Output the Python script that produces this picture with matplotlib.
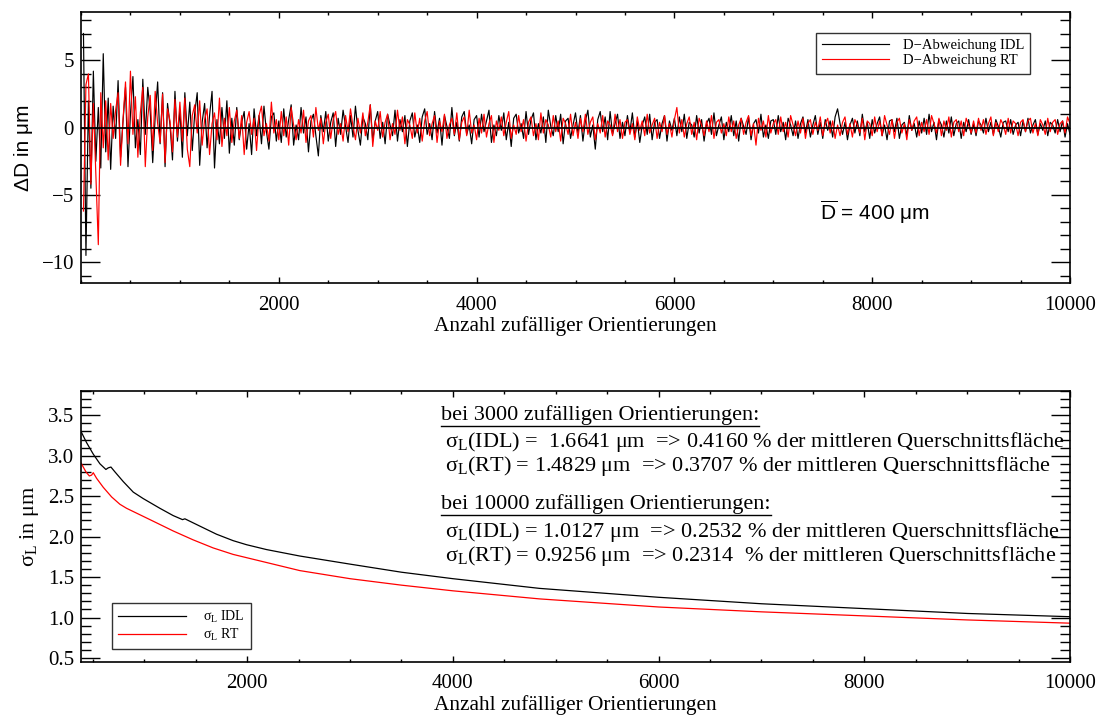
import numpy as np
import matplotlib
matplotlib.use('Agg')
import matplotlib.pyplot as plt
from matplotlib.ticker import MultipleLocator
from matplotlib.lines import Line2D

plt.rcParams['font.family'] = 'Liberation Serif'
plt.rcParams['mathtext.fontset'] = 'custom'
plt.rcParams['mathtext.rm'] = 'Liberation Serif'
plt.rcParams['mathtext.it'] = 'Liberation Serif:italic'
plt.rcParams['mathtext.sf'] = 'Liberation Sans'

# =====================================================================
# Daten oberer Plot: D-Abweichung je Anzahl Orientierungen (Schritt 25)
# =====================================================================
n_orient = np.arange(25, 10001, 25)

dev_idl = [
    7.0, -9.5, 2.0, -4.5, 4.2, -2.5, 1.5, -3.0, 5.5, -1.8, 2.2, -3.1, 1.6, -0.8, 3.5, -2.2, 0.5, 3.0, -2.9, 1.0,
    3.8, -1.5, 0.6, -2.0, 3.6, -0.5, 3.0, 1.2, -2.6, 0.8, 3.4, -1.2, 2.6, -2.9, 1.8, 0.2, -2.4, 2.7, -1.0, 1.3,
    -2.2, 2.6, -0.6, 1.9, -1.7, 1.1, 2.6, -2.8, 0.4, 1.8, -1.5, 0.9, 2.7, -3.0, 0.6, -1.2, 1.5, -0.8, 2.0, -1.9,
    0.7, -1.3, 1.5, -0.9, 0.4, 1.2, -1.6, 0.3, -2.0, 1.4, -0.6, 0.9, -1.2, 1.6, -0.3, -1.6, 0.8, 1.1, -1.0, 0.5,
    -1.1, 1.4, -0.7, 0.6, 1.7, -1.3, 0.2, -0.9, 1.5, -0.4, 0.8, -1.8, 0.5, 1.0, -0.6, -2.1, 0.9, -0.3, 1.2, -1.0,
    0.4, 1.1, -1.4, 0.7, -0.5, 1.3, 0.1, -1.1, 0.9, -0.7, 1.6, -0.2, -1.3, 0.8, 0.3, -0.9, 1.7, -1.0, 0.5, 1.2,
    -0.8, 0.4, -1.2, 1.0, 0.2, -0.6, 1.3, -1.0, 0.6, -0.3, 0.9, -1.4, 0.5, 1.1, -0.7, 0.2, -1.1, 0.8, 1.4, -0.5,
    0.3, -0.9, 1.2, -0.4, 0.7, -1.3, 0.9, 0.1, -0.8, 1.5, -0.6, 0.4, -1.0, 0.8, 1.2, -0.5, 0.2, -1.2, 0.6, 0.9,
    -0.7, 1.0, -0.3, 0.5, 1.3, -1.1, 0.2, -0.6, 0.9, -0.2, 1.1, -0.9, 0.4, -1.4, 0.7, 1.0, -0.4, 0.3, -0.8, 1.2,
    -0.5, 0.6, 1.1, -0.9, 0.3, -0.4, 0.8, -1.1, 1.3, 0.1, -0.6, 0.9, -0.3, 1.0, -1.2, 0.5, 0.7, -0.8, 0.2, 1.1,
    -0.4, 0.9, -1.0, 0.5, 1.3, -0.7, 0.2, -1.6, 0.6, 1.2, -0.3, 0.8, -0.9, 1.2, -0.5, 0.3, 1.0, -0.8, 0.4, -0.6,
    0.9, -0.3, 1.1, -0.7, 0.5, -1.1, 0.2, 0.8, -0.5, 1.0, -0.9, 0.4, 0.6, -0.8, 0.3, 0.9, -1.0, 0.5, -0.2, 0.7,
    -0.6, 0.8, -0.3, 1.0, -0.8, 0.4, 0.2, -0.7, 0.9, -0.4, 0.6, -1.0, 0.3, 0.7, -0.5, 1.1, -0.6, 0.2, 0.8, -0.9,
    0.4, -0.3, 0.9, -0.6, 0.5, -1.0, 0.7, 0.1, -0.5, 0.8, -0.9, 0.3, 0.6, -0.4, 1.0, -0.7, 0.2, -0.8, 0.5, 0.6,
    -0.5, 0.9, -0.3, 0.4, -0.9, 0.7, 0.2, -0.6, 0.5, -0.8, 0.3, 0.8, -0.4, 0.6, -0.7, 0.2, 0.9, -0.5, 0.4, -0.8,
    0.6, -0.2, 0.5, -0.7, 0.8, 1.4, 0.3, -0.5, 0.4, -0.9, 0.2, 0.7, -0.4, 0.5, -0.6, 1.0, -0.3, 0.4, -0.8, 0.6,
    -0.4, 0.3, 0.8, -0.6, 0.2, -0.9, 0.5, 0.6, -0.3, 0.7, -0.8, 0.2, 0.4, -0.6, 0.9, -0.2, 0.3, -0.7, 0.5, -0.4,
    0.7, -0.5, 1.0, -0.3, 0.4, -0.9, 0.6, 0.2, -0.7, 0.5, -0.4, 0.8, -0.6, 0.3, 0.5, -0.8, 0.4, -0.3, 0.6, -0.5,
    0.3, -0.6, 0.5, 0.2, -0.4, 0.7, -0.3, 0.4, -0.5, 0.6, 0.1, -0.7, 0.4, 0.5, -0.3, 0.6, -0.5, 0.2, 0.4, -0.6,
    0.5, -0.3, 0.7, -0.4, 0.2, 0.6, -0.5, 0.3, -0.2, 0.5, -0.6, 0.4, 0.2, -0.4, 0.6, -0.3, 0.5, -0.7, 0.3, -0.5,
]

dev_rt = [
    -6.2, 3.2, 4.0, -4.2, 1.8, -3.5, -8.7, 2.6, -1.5, 2.0, -2.4, 1.8, -0.8, 1.3, 2.6, -2.8, 0.6, 3.4, -1.2, 4.2,
    -0.5, 2.3, -2.2, 1.1, 3.0, -2.9, 0.8, 2.4, -1.7, 2.7, 0.3, -1.1, 2.5, -2.6, 1.4, 0.5, -1.8, 2.1, -0.7, 1.9,
    -1.0, 2.2, -1.6, -2.9, 0.9, 1.7, -0.4, 2.0, -1.3, 0.6, 1.4, -2.0, 0.3, 1.1, -0.9, 2.2, -1.4, 0.7, -0.6, 1.5,
    -1.1, 0.5, 1.3, -0.8, 0.9, -2.0, 0.4, 1.2, -0.5, 0.7, -1.7, 0.9, 1.6, -0.6, 0.3, -1.0, 1.9, -0.4, 0.6, -0.9,
    1.2, -0.6, 0.8, -1.3, 1.5, 0.2, -0.9, 0.6, -0.4, 1.3, -1.1, 0.5, 0.9, -0.7, 1.5, -0.2, 0.7, -1.2, 0.4, 1.0,
    -0.8, 0.6, 1.2, -0.5, 0.3, -1.0, 0.9, -0.3, 1.4, 0.1, -0.9, 0.7, -0.4, 1.1, -0.6, 0.4, 1.7, -1.4, 0.5, -0.2,
    1.2, -0.7, 0.4, 1.0, -0.9, 0.3, -0.5, 1.3, -0.2, 0.8, -1.2, 0.6, 0.2, -0.8, 1.1, -0.4, 0.7, -1.0, 0.5, 1.2,
    -0.6, 0.3, 0.9, -1.1, 0.5, -0.3, 1.0, -0.8, 0.2, 0.7, -0.5, 1.1, -0.9, 0.4, 0.8, -0.6, 1.3, -0.4, 0.2, -0.9,
    0.7, -0.4, 1.0, -0.7, 0.3, 0.9, -1.1, 0.5, -0.2, 0.8, -0.6, 0.4, 1.2, -0.8, 0.2, -0.5, 0.9, -0.3, 0.6, -1.0,
    0.4, 0.8, -0.6, 0.3, -0.9, 1.1, -0.4, 0.6, 0.2, -0.7, 0.9, -0.3, 0.5, -1.0, 0.7, 0.3, -0.5, 1.0, -0.6, 0.4,
    -0.8, 0.7, -0.3, 1.0, -0.5, 0.4, 0.8, -0.9, 0.3, -0.4, 0.9, -0.7, 0.5, 0.2, -0.6, 1.0, -0.3, 0.6, -0.8, 0.4,
    0.6, -0.5, 0.3, -0.9, 0.8, -0.2, 0.5, -0.6, 1.0, -0.4, 0.2, 0.7, -0.8, 0.4, -0.3, 0.9, -0.5, 0.3, -0.7, 0.6,
    1.5, -0.4, 0.6, -0.7, 0.3, 0.8, -0.5, 0.4, -0.9, 0.7, 0.2, -0.6, 0.5, -0.3, 0.9, -0.8, 0.4, 0.6, -0.4, 0.3,
    -0.6, 0.8, -0.3, 0.5, -0.8, 0.2, 0.7, -0.5, 0.4, 0.9, -0.6, 0.3, -1.3, 0.7, -0.2, 0.5, -0.7, 0.9, -0.4, 0.3,
    0.6, -0.5, 0.8, -0.3, 0.4, -0.7, 0.9, 0.2, -0.6, 0.5, -0.4, 0.7, -0.8, 0.3, 0.6, -0.5, 0.4, -0.2, 0.8, -0.6,
    0.3, 0.7, -0.4, 0.5, -0.8, 0.2, -0.6, 0.4, 0.8, -0.5, 0.3, -0.7, 0.6, 0.2, -0.4, 0.7, -0.9, 0.5, 0.3, -0.6,
    0.8, -0.3, 0.5, -0.6, 0.9, 0.2, -0.5, 0.6, -0.8, 0.4, 0.7, -0.4, 0.3, -0.9, 0.6, -0.2, 0.5, 0.8, -0.6, 0.4,
    -0.3, 0.6, -0.5, 0.9, 0.3, -0.4, 0.7, -0.6, 0.5, -0.2, 0.8, -0.7, 0.4, 0.6, -0.3, 0.5, -0.6, 0.7, 0.2, -0.4,
    0.5, -0.4, 0.7, -0.2, 0.6, -0.5, 0.3, 0.8, -0.6, 0.4, -0.3, 0.6, 0.2, -0.5, 0.7, -0.4, 0.5, 0.3, -0.6, 0.4,
    0.6, -0.3, 0.5, 0.7, -0.4, 0.3, -0.6, 0.6, 0.2, -0.5, 0.7, -0.3, 0.4, 0.6, -0.5, 0.3, 0.5, -0.4, 0.8, 0.3,
]

# =====================================================================
# Daten unterer Plot: sigma_L abhaengig von der Anzahl Orientierungen
# =====================================================================
sig_x_idl = [385, 440, 504, 569, 627, 650, 676, 715, 796, 893, 990, 1152, 1281, 1372, 1395, 1540,
             1702, 1864, 1994, 2188, 2512, 3000, 3500, 4000, 4843, 6000, 7000, 8000, 9000, 10000]
sig_idl = [3.30, 3.16, 3.02, 2.90, 2.83, 2.85, 2.86, 2.80, 2.68, 2.55, 2.47, 2.35, 2.26, 2.21, 2.22, 2.13,
           2.03, 1.95, 1.90, 1.84, 1.76, 1.66, 1.56, 1.48, 1.36, 1.25, 1.17, 1.11, 1.05, 1.01]

sig_x_rt = [385, 433, 466, 488, 504, 537, 601, 683, 763, 828, 958, 1120, 1281, 1475, 1670, 1864,
            2188, 2512, 3000, 3500, 4000, 4843, 6000, 7000, 8000, 9000, 10000]
sig_rt = [2.91, 2.80, 2.75, 2.76, 2.79, 2.72, 2.61, 2.49, 2.40, 2.35, 2.27, 2.17, 2.07, 1.96, 1.86, 1.78,
          1.68, 1.58, 1.48, 1.40, 1.33, 1.23, 1.13, 1.07, 1.02, 0.97, 0.93]

W, H = 1099, 715
fig = plt.figure(figsize=(W / 100, H / 100), dpi=100)


def style_axes(ax, ymaj, ymin):
    # IDL-Stil: Ticks nach innen auf allen vier Seiten
    ax.xaxis.set_major_locator(MultipleLocator(2000))
    ax.xaxis.set_minor_locator(MultipleLocator(500))
    ax.yaxis.set_major_locator(MultipleLocator(ymaj))
    ax.yaxis.set_minor_locator(MultipleLocator(ymin))
    ax.tick_params(which='both', direction='in', top=True, right=True, labelsize=15, width=1.0)
    ax.tick_params(axis='x', which='major', length=4, pad=9)
    ax.tick_params(axis='x', which='minor', length=2)
    ax.tick_params(axis='y', which='major', length=14, pad=5)
    ax.tick_params(axis='y', which='minor', length=7)
    for s in ax.spines.values():
        s.set_linewidth(1.2)


# ---------------- oberer Plot ----------------
ax1 = fig.add_axes([81 / W, 1 - 283 / H, 989 / W, 271 / H])
ax1.plot(n_orient, dev_idl, color='black', lw=0.85, label='D\u2212Abweichung IDL')
ax1.plot(n_orient, dev_rt, color='red', lw=0.85, label='D\u2212Abweichung RT')
ax1.axhline(0, color='black', lw=1.3)
ax1.set_xlim(0, 10000)
ax1.set_ylim(-11.55, 8.6)
style_axes(ax1, 5, 1)
ax1.set_xticks([2000, 4000, 6000, 8000, 10000])
ax1.set_xlabel('Anzahl zufälliger Orientierungen', fontsize=15.3, labelpad=1)
ax1.set_ylabel('\u0394D in \u03bcm', fontsize=15, family='Liberation Sans', labelpad=6)
leg1 = ax1.legend(loc='upper right', bbox_to_anchor=(0.96, 0.924), fontsize=10.5, frameon=True,
                  fancybox=False, edgecolor='black', handlelength=4.6, handletextpad=0.9,
                  labelspacing=0.1, borderaxespad=0, borderpad=0.45)
leg1.get_frame().set_linewidth(1.0)
ax1.text(0.747, 0.26, r'$\overline{\mathsf{D}}$ = 400 μm',
         transform=ax1.transAxes, fontsize=15, family='Liberation Sans', va='center')

# ---------------- unterer Plot ----------------
ax2 = fig.add_axes([81 / W, 1 - 662 / H, 989 / W, 271 / H])
ax2.plot(sig_x_idl, sig_idl, color='black', lw=0.9, label='σ$_\\mathrm{L}$ IDL')
ax2.plot(sig_x_rt, sig_rt, color='red', lw=0.9, label='σ$_\\mathrm{L}$ RT')
ax2.set_xlim(385, 10000)
ax2.set_ylim(0.45, 3.8)
style_axes(ax2, 0.5, 0.1)
ax2.set_xticks([2000, 4000, 6000, 8000, 10000])
ax2.yaxis.set_major_formatter(plt.FormatStrFormatter('%.1f'))
ax2.set_xlabel('Anzahl zufälliger Orientierungen', fontsize=15.3, labelpad=1)
ax2.set_ylabel('σ$_\\mathrm{L}$ in μm', fontsize=16, labelpad=5)
leg2 = ax2.legend(loc='lower left', bbox_to_anchor=(0.031, 0.048), fontsize=10, frameon=True,
                  fancybox=False, edgecolor='black', handlelength=4.9, handletextpad=1.2,
                  labelspacing=0.1, borderaxespad=0, borderpad=0.45)
leg2.get_frame().set_linewidth(1.0)

# Textblock rechts oben im unteren Plot
headers = [('bei 3000 zufälligen Orientierungen:', 420),
           ('bei 10000 zufälligen Orientierungen:', 509)]
lines = [('σ$_\\mathrm{L}$(IDL) =  1.6641 μm  => 0.4160 % der mittleren Querschnittsfläche', 447),
         ('σ$_\\mathrm{L}$(RT) = 1.4829 μm  => 0.3707 % der mittleren Querschnittsfläche', 471),
         ('σ$_\\mathrm{L}$(IDL) = 1.0127 μm  => 0.2532 % der mittleren Querschnittsfläche', 537),
         ('σ$_\\mathrm{L}$(RT) = 0.9256 μm  => 0.2314  % der mittleren Querschnittsfläche', 561)]
head_txt = [fig.text(441 / W, 1 - y / H, s, fontsize=16, va='baseline') for s, y in headers]
for s, y in lines:
    fig.text(445 / W, 1 - y / H, s, fontsize=16, va='baseline')

# Unterstreichung der Ueberschriften
fig.canvas.draw()
renderer = fig.canvas.get_renderer()
for t in head_txt:
    bb = t.get_window_extent(renderer)
    yy = (bb.y0 - 0.5) / H
    fig.add_artist(Line2D([bb.x0 / W, bb.x1 / W], [yy, yy], color='black', lw=1.0))

fig.savefig('out.png', dpi=100)
